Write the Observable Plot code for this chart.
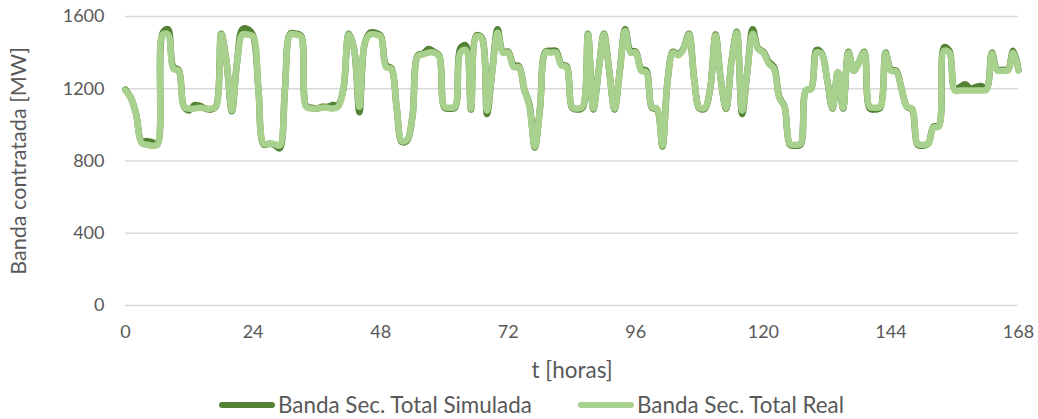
<!DOCTYPE html>
<html>
<head>
<meta charset="utf-8">
<script src="https://cdn.jsdelivr.net/npm/d3@7"></script>
<script src="https://cdn.jsdelivr.net/npm/@observablehq/plot@0.6"></script>
<style>
  body { margin: 0; background: #fff; font-family: Lato, "Open Sans", sans-serif; }
  #legend { position: absolute; left: 0; top: 392px; width: 1038px; height: 26px; font-size: 22.4px; line-height: 26px; color: #595959; }
  .item { position: absolute; top: 0; height: 26px; display: flex; align-items: center; white-space: nowrap; }
  .sw { width: 56px; height: 6px; border-radius: 3px; margin-right: 3px; }
</style>
</head>
<body>
<div id="chart"></div>
<div id="legend"></div>
<script>
const seriesNames = ["Banda Sec. Total Simulada", "Banda Sec. Total Real"];
const seriesColors = ["#548235", "#A9D18E"];
const xTicks = [0, 24, 48, 72, 96, 120, 144, 168];
const yTicks = [0, 400, 800, 1200, 1600];

const real = [
 1190,1150,1060,900,890,885,890,1500,1500,1310,
 1300,1100,1090,1090,1095,1090,1090,1100,1500,1350,
 1080,1350,1500,1500,1490,1200,895,895,895,885,
 1200,1500,1500,1490,1100,1090,1090,1095,1095,1090,
 1100,1200,1500,1420,1100,1450,1500,1500,1490,1320,
 1310,1100,910,920,1050,1380,1390,1400,1400,1380,
 1100,1095,1100,1400,1415,1090,1490,1480,1080,1300,
 1510,1400,1400,1320,1320,1200,1100,880,1100,1400,
 1400,1400,1330,1320,1100,1090,1100,1500,1090,1300,
 1500,1300,1090,1300,1520,1400,1400,1300,1290,1100,
 1090,885,1250,1400,1385,1420,1500,1250,1095,1095,
 1200,1495,1250,1095,1350,1510,1080,1300,1505,1420,
 1400,1340,1310,1150,1100,895,890,895,1190,1200,
 1400,1390,1250,1095,1290,1095,1400,1300,1350,1400,
 1100,1095,1100,1395,1300,1295,1200,1100,1090,895,
 890,895,985,990,1410,1400,1190,1190,1190,1190,
 1190,1190,1195,1395,1300,1300,1300,1400,1300
];
const simulada = [
 1195,1150,1060,910,910,905,895,1510,1530,1320,
 1305,1100,1080,1110,1105,1090,1085,1100,1505,1350,
 1075,1350,1530,1530,1495,1200,890,895,890,870,
 1200,1505,1505,1495,1105,1095,1090,1100,1100,1110,
 1110,1200,1505,1420,1070,1450,1510,1510,1495,1330,
 1315,1100,905,915,1050,1385,1395,1420,1405,1385,
 1095,1090,1095,1425,1440,1085,1495,1485,1060,1300,
 1530,1405,1405,1330,1325,1200,1110,875,1100,1405,
 1410,1410,1335,1325,1095,1085,1095,1505,1085,1300,
 1505,1300,1085,1300,1530,1410,1405,1310,1300,1095,
 1085,880,1250,1405,1390,1425,1505,1250,1090,1090,
 1200,1500,1250,1090,1350,1515,1060,1300,1530,1425,
 1405,1350,1320,1155,1100,890,885,890,1190,1200,
 1415,1395,1250,1090,1290,1090,1405,1300,1350,1405,
 1090,1085,1095,1400,1305,1300,1200,1100,1085,890,
 885,895,990,995,1430,1410,1200,1210,1225,1200,
 1210,1215,1200,1400,1305,1305,1305,1410,1305
];
const hours = d3.range(0, 169);

const simData = hours.map((h, i) => ({t: h, v: simulada[i], s: seriesNames[0]}));
const realData = hours.map((h, i) => ({t: h, v: real[i], s: seriesNames[1]}));

const chart = Plot.plot({
  width: 1038,
  height: 388,
  marginLeft: 125,
  marginRight: 20,
  marginTop: 16,
  marginBottom: 83,
  style: { fontFamily: "Lato, 'Open Sans', sans-serif", fontSize: "18px", color: "#595959", background: "#fff" },
  x: { domain: [0, 168], ticks: xTicks, tickSize: 0, tickPadding: 20, label: null },
  y: { domain: [0, 1600], ticks: yTicks, tickSize: 0, tickPadding: 21, label: null, tickFormat: d => String(d) },
  marks: [
    Plot.ruleY(yTicks, { stroke: "#d9d9d9", strokeWidth: 1.5 }),
    Plot.axisX({ ticks: xTicks, tickSize: 0, tickPadding: 20, label: null, fill: "#595959", fontSize: 18 }),
    Plot.axisY({ ticks: yTicks, tickSize: 0, tickPadding: 21, label: null, fill: "#595959", fontSize: 18, tickFormat: d => String(d) }),
    Plot.line(simData, { x: "t", y: "v", stroke: seriesColors[0], strokeWidth: 6.5, curve: "catmull-rom" }),
    Plot.line(realData, { x: "t", y: "v", stroke: seriesColors[1], strokeWidth: 6.5, curve: "catmull-rom" }),
    Plot.text(["t [horas]"], { frameAnchor: "bottom", dy: 72, fontSize: 22.5, fill: "#595959" }),
    Plot.text(["Banda contratada [MW]"], { frameAnchor: "left", textAnchor: "middle", dx: -106, dy: 0, rotate: -90, fontSize: 21.6, fill: "#595959" })
  ]
});
document.getElementById("chart").appendChild(chart);

const legend = document.getElementById("legend");
const lefts = [219, 578];
seriesNames.forEach((n, i) => {
  const it = document.createElement("div");
  it.className = "item";
  it.style.left = lefts[i] + "px";
  it.innerHTML = `<span class="sw" style="background:${seriesColors[i]}"></span><span>${n}</span>`;
  legend.appendChild(it);
});
</script>
</body>
</html>
